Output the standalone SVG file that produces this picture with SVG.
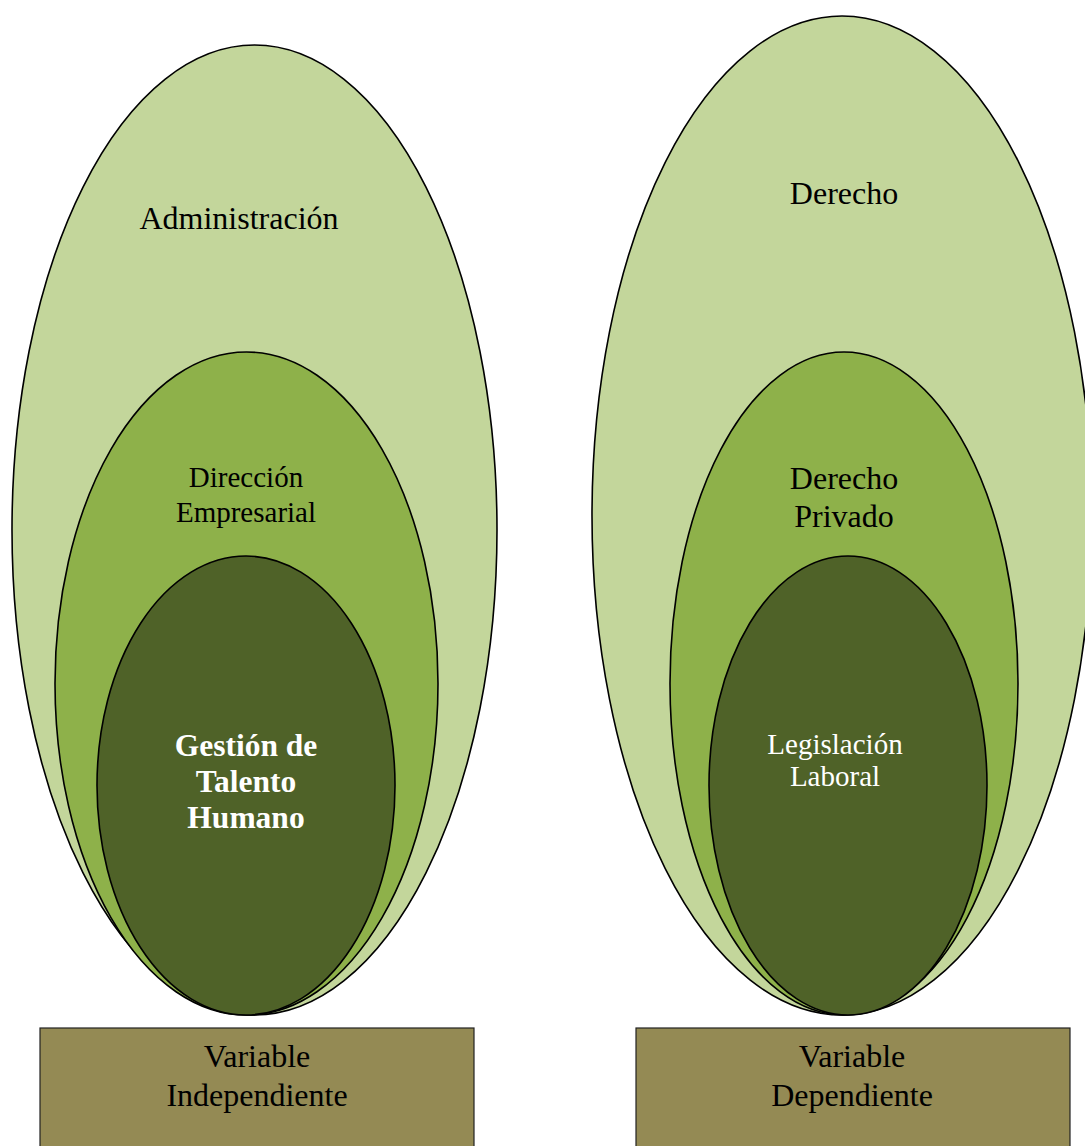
<svg xmlns="http://www.w3.org/2000/svg" width="1085" height="1146" viewBox="0 0 1085 1146">
  <style>
    .outer { fill: #c3d69b; stroke: #000; stroke-width: 1.6; }
    .middle { fill: #8eb14a; stroke: #000; stroke-width: 1.6; }
    .inner { fill: #4f6228; stroke: #000; stroke-width: 1.6; }
    .box { fill: #948a54; stroke: #222; stroke-width: 1.2; }
    text { font-family: "Liberation Serif", "Times New Roman", serif; text-anchor: middle; fill: #000; }
    .big { font-size: 32px; }
    .mid { font-size: 29px; }
    .light { fill: #fff; }
    .bold { font-weight: bold; font-size: 31.5px; }
  </style>
  <rect width="1085" height="1146" fill="#fff"/>

  <!-- Left stack: Administración > Dirección Empresarial > Gestión de Talento Humano -->
  <g id="administracion">
    <ellipse class="outer" cx="254.5" cy="530" rx="242.5" ry="485"/>
    <text class="big" x="239" y="229">Administración</text>
  </g>
  <g id="direccion-empresarial">
    <ellipse class="middle" cx="246.5" cy="683.5" rx="191.5" ry="331.5"/>
    <text class="mid" x="246" y="487">Dirección</text>
    <text class="mid" x="246" y="522">Empresarial</text>
  </g>
  <g id="gestion-talento-humano">
    <ellipse class="inner" cx="246" cy="785.5" rx="149" ry="229.5"/>
    <text class="bold light" x="246" y="756">Gestión de</text>
    <text class="bold light" x="246" y="792">Talento</text>
    <text class="bold light" x="246" y="828">Humano</text>
  </g>

  <!-- Right stack: Derecho > Derecho Privado > Legislación Laboral -->
  <g id="derecho">
    <ellipse class="outer" cx="842" cy="515.5" rx="250" ry="499.5"/>
    <text class="big" x="844" y="204">Derecho</text>
  </g>
  <g id="derecho-privado">
    <ellipse class="middle" cx="844" cy="683.5" rx="174" ry="331.5"/>
    <text class="big" x="844" y="489">Derecho</text>
    <text class="big" x="844" y="527">Privado</text>
  </g>
  <g id="legislacion-laboral">
    <ellipse class="inner" cx="848" cy="785.5" rx="139" ry="229.5"/>
    <text class="mid light" x="835" y="754">Legislación</text>
    <text class="mid light" x="835" y="786">Laboral</text>
  </g>

  <!-- Variable labels -->
  <g id="variable-independiente">
    <rect class="box" x="40" y="1028" width="434" height="140"/>
    <text class="big" x="257" y="1067">Variable</text>
    <text class="big" x="257" y="1106">Independiente</text>
  </g>
  <g id="variable-dependiente">
    <rect class="box" x="636" y="1028" width="434" height="140"/>
    <text class="big" x="852" y="1067">Variable</text>
    <text class="big" x="852" y="1106">Dependiente</text>
  </g>

  <g id="connectors"></g>
</svg>
